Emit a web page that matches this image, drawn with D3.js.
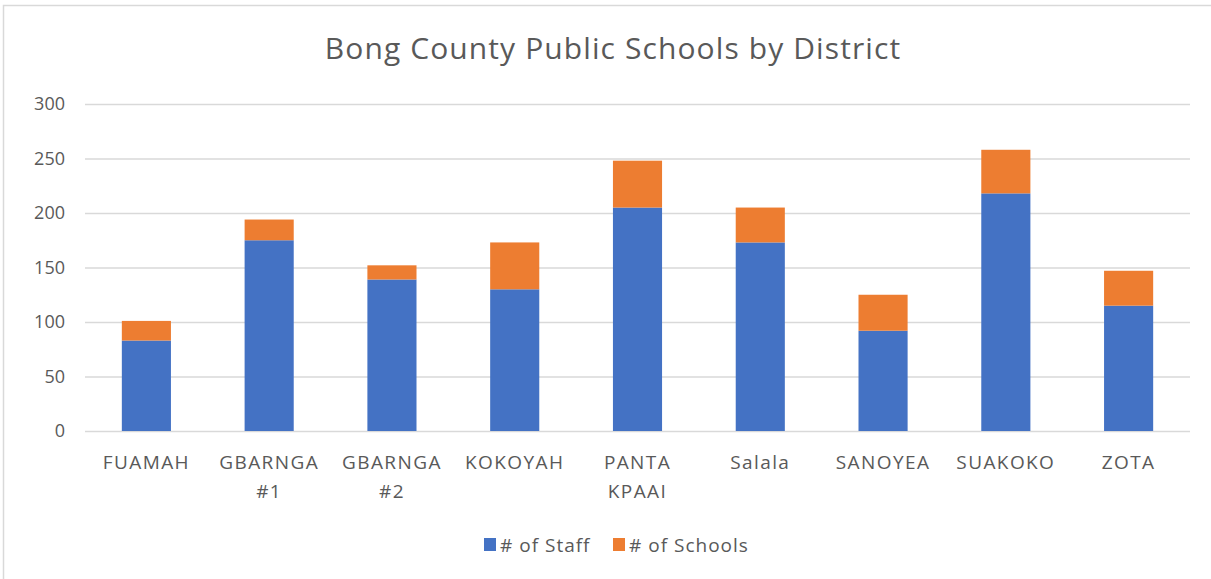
<!DOCTYPE html>
<html>
<head>
<meta charset="utf-8">
<script src="https://cdn.jsdelivr.net/npm/d3@7"></script>
<style>
  body { margin: 0; background: #fff; }
  svg text { font-family: "Open Sans", "Noto Sans", sans-serif; fill: #595959; }
</style>
</head>
<body>
<div id="chart"></div>
<script>
// Data
var districts = ['FUAMAH', 'GBARNGA #1', 'GBARNGA #2', 'KOKOYAH', 'PANTA KPAAI',
                 'Salala', 'SANOYEA', 'SUAKOKO', 'ZOTA'];
var staff   = [83, 175, 139, 130, 205, 173, 92, 218, 115];
var schools = [18, 19, 13, 43, 43, 32, 33, 40, 32];
var yTicks  = [0, 50, 100, 150, 200, 250, 300];
var seriesNames = ['# of Staff', '# of Schools'];
var colors = ['#4472C4', '#ED7D31'];

var W = 1211, H = 579;
var margin = {top: 104, right: 21, bottom: 148, left: 85};
var width = W - margin.left - margin.right,
    height = H - margin.top - margin.bottom;

var svg = d3.select('#chart').append('svg')
  .attr('width', W).attr('height', H);

// chart frame
svg.append('rect')
  .attr('x', 3.5).attr('y', 5.5)
  .attr('width', W - 2).attr('height', H)
  .attr('fill', 'none').attr('stroke', '#d9d9d9').attr('stroke-width', 1.5);

svg.append('text')
  .attr('x', 613).attr('y', 59)
  .attr('text-anchor', 'middle')
  .style('font-size', '30px')
  .style('letter-spacing', '1.1px')
  .text('Bong County Public Schools by District');

var g = svg.append('g')
  .attr('transform', 'translate(' + margin.left + ',' + margin.top + ')');

var x = d3.scaleBand().domain(districts).range([0, width]).paddingInner(0.6).paddingOuter(0.3);
var y = d3.scaleLinear().domain([0, 300]).range([height, 0]);

// gridlines + y labels
var yAxis = g.append('g')
  .call(d3.axisLeft(y).tickValues(yTicks).tickSize(-width).tickPadding(20));
yAxis.select('.domain').remove();
yAxis.selectAll('.tick line').attr('stroke', '#d9d9d9').attr('stroke-width', 1.5);
yAxis.selectAll('.tick text').style('font-size', '18px').attr('fill', '#595959');

// stacked data
var rows = districts.map(function(d, i){
  return {district: d, staff: staff[i], schools: schools[i]};
});
var stack = d3.stack().keys(['staff', 'schools'])(rows);

g.selectAll('.layer')
  .data(stack)
  .enter().append('g')
  .attr('fill', function(d, i){ return colors[i]; })
  .selectAll('rect')
  .data(function(d){ return d; })
  .enter().append('rect')
  .attr('x', function(d){ return x(d.data.district); })
  .attr('width', x.bandwidth())
  .attr('y', function(d){ return y(d[1]); })
  .attr('height', function(d){ return y(d[0]) - y(d[1]); });

// x labels, wrapped on space for two-word names like the original
var xl = g.append('g').attr('transform', 'translate(0,' + height + ')');
districts.forEach(function(d){
  var parts = (d.indexOf('#') >= 0 || d === 'PANTA KPAAI') ? d.split(' ') : [d];
  var t = xl.append('text')
    .attr('x', x(d) + x.bandwidth() / 2)
    .attr('y', 38)
    .attr('text-anchor', 'middle')
    .style('font-size', '19px')
    .style('letter-spacing', '1.4px');
  parts.forEach(function(p, j){
    t.append('tspan').attr('x', x(d) + x.bandwidth() / 2).attr('dy', j === 0 ? 0 : 29).text(p);
  });
});

// legend
var legend = svg.append('g').attr('transform', 'translate(484,545)');
var lx = [0, 129];
seriesNames.forEach(function(s, i){
  var it = legend.append('g').attr('transform', 'translate(' + lx[i] + ',0)');
  it.append('rect').attr('x', 0).attr('y', -7).attr('width', 12).attr('height', 13).attr('fill', colors[i]);
  it.append('text').attr('x', 16).attr('y', 0).attr('dy', '0.35em')
    .style('font-size', '19px').style('letter-spacing', '1px').text(s);
});
</script>
</body>
</html>
